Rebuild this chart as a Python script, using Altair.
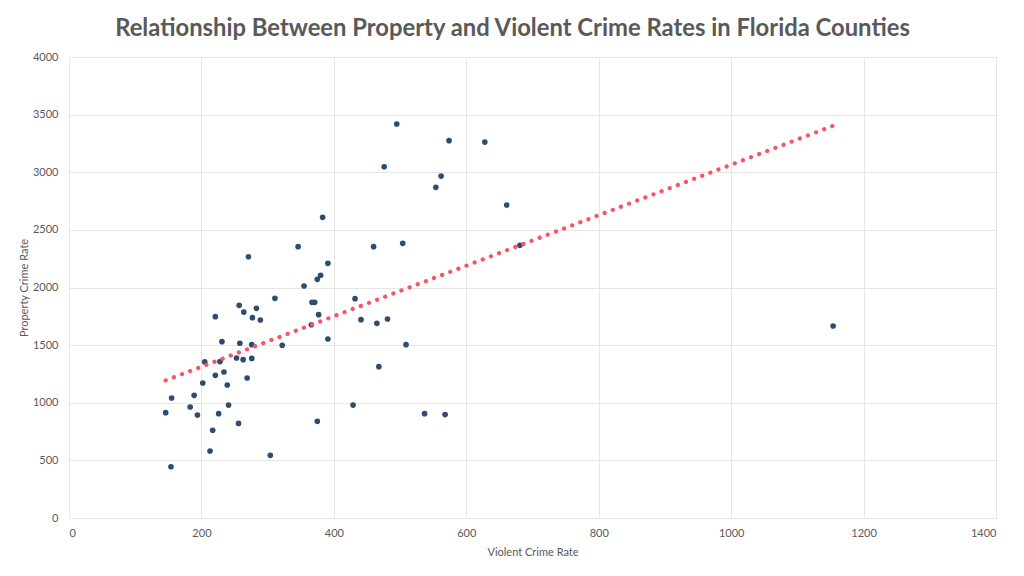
import altair as alt
import pandas as pd

violent = [271, 346, 391, 380, 375, 355, 311, 257, 264, 283, 277, 289, 221, 367, 371,
           377, 366, 391, 231, 258, 276, 322, 205, 228, 253, 263, 276, 221, 234, 269,
           202, 239, 155, 189, 146, 183, 194, 241, 226, 256, 375, 217, 213, 304, 154,
           495, 574, 628, 476, 562, 554, 661, 383, 460, 504, 681, 432, 441, 465, 481,
           509, 468, 429, 537, 568, 1154]
property_ = [2267, 2354, 2210, 2106, 2071, 2013, 1906, 1845, 1787, 1819, 1738, 1718, 1747, 1871, 1871,
             1764, 1677, 1553, 1530, 1516, 1504, 1498, 1354, 1357, 1388, 1374, 1385, 1238, 1267, 1215,
             1171, 1154, 1041, 1064, 914, 963, 894, 980, 905, 821, 839, 761, 581, 544, 445,
             3419, 3274, 3262, 3048, 2967, 2869, 2716, 2609, 2354, 2383, 2366, 1903, 1721, 1689, 1727,
             1504, 1313, 980, 905, 897, 1666]

x_ticks = [0, 200, 400, 600, 800, 1000, 1200, 1400]
y_ticks = [0, 500, 1000, 1500, 2000, 2500, 3000, 3500, 4000]

df = pd.DataFrame({"violent": violent, "property": property_})

FONT = "Lato"
GRAY = "#595959"

x_enc = alt.X("violent:Q", title="Violent Crime Rate",
              scale=alt.Scale(domain=[0, 1400], nice=False),
              axis=alt.Axis(values=x_ticks, format="d", grid=True, gridColor="#E6E6E6", domain=False,
                            ticks=False, labelPadding=9, titlePadding=8))
y_enc = alt.Y("property:Q", title="Property Crime Rate",
              scale=alt.Scale(domain=[0, 4000], nice=False),
              axis=alt.Axis(values=y_ticks, format="d", grid=True, gridColor="#E6E6E6", domain=False,
                            ticks=False, labelPadding=11, titlePadding=3))

points = alt.Chart(df).mark_circle(size=32, color="#2F4B6E", opacity=1).encode(x=x_enc, y=y_enc)

trend = alt.Chart(df).transform_regression("violent", "property").mark_line(
    color="#FF5065", strokeWidth=4.2, strokeDash=[0.1, 8.6], strokeCap="round"
).encode(x="violent:Q", y="property:Q")

chart = (points + trend).properties(
    width=927, height=461,
    padding={"left": 61, "top": 49, "right": 10, "bottom": 48},
    autosize=alt.AutoSizeParams(type="none"),
    title=alt.TitleParams(
        "Relationship Between Property and Violent Crime Rates in Florida Counties",
        fontSize=23.8, font=FONT, fontWeight="bold", color=GRAY, anchor="middle",
        offset=10, dx=-20),
).configure_axis(
    labelFont=FONT, titleFont=FONT, labelColor=GRAY, titleColor=GRAY,
    labelFontSize=11, titleFontSize=11, titleFontWeight="normal", gridWidth=1,
).configure_view(stroke=None)

chart.save("out.html", embed_options={"renderer": "svg", "actions": False})
